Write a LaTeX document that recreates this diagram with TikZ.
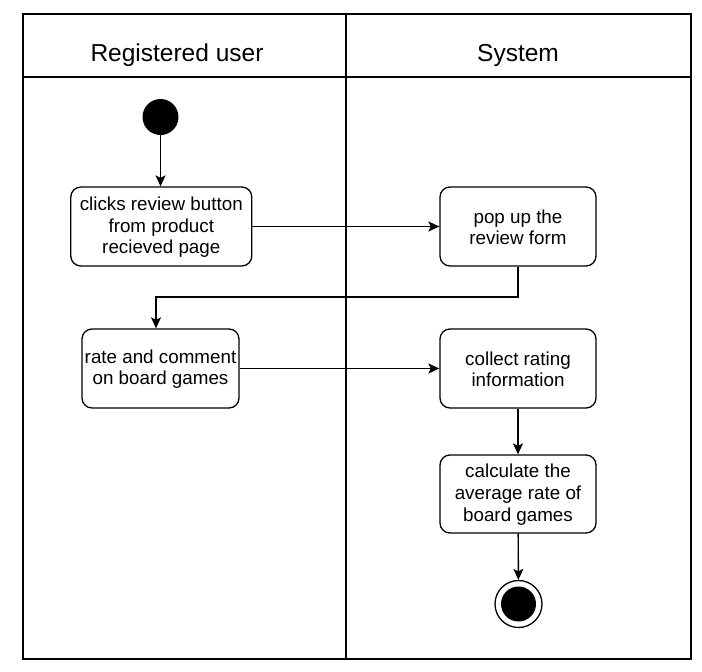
\documentclass[tikz,border=0pt]{standalone}
\usepackage{fontspec}
\setmainfont{Liberation Sans}
\usetikzlibrary{arrows.meta}
\begin{document}
\begin{tikzpicture}[x=1pt,y=-1pt,
  lane/.style={line width=1.4pt,draw=black},
  act/.style={draw=black,line width=1.3pt,rounded corners=10pt,align=center,
    inner sep=0pt,minimum height=79pt,font=\fontsize{18.8}{21.7}\selectfont},
  flow/.style={line width=1.4pt,-{Stealth[length=11pt,width=10pt,inset=2.5pt]}},
  title/.style={font=\fontsize{24.5}{28}\selectfont}]
\useasboundingbox (0,0) rectangle (702,672);
\fill[white] (0,0) rectangle (702,672);
% swimlanes
\draw[lane] (23,14) rectangle (691,659);
\draw[lane] (23,77) -- (691,77);
\draw[lane] (346,14) -- (346,659);
\node[title] (t1) at (177,55) {Registered user};
\node[title] (t2) at (518,55) {System};
% start
\node[circle,fill=black,minimum size=36pt,inner sep=0pt] (start) at (160.5,117) {};
% activities
\node[act,minimum width=181pt] (a1) at (161.3,226.5) {\strut clicks review button\\from product\\recieved page};
\node[act,minimum width=156pt] (a2) at (518,226.5) {\strut pop up the\\review form};
\node[act,minimum width=157pt] (a3) at (160.5,368.5) {\strut rate and comment\\on board games};
\node[act,minimum width=156pt] (a4) at (518,368.5) {\strut collect rating\\information};
\node[act,minimum width=156pt,minimum height=78pt] (a5) at (518,494) {\strut calculate the\\average rate of\\board games};
% end
\node[circle,draw=black,line width=1.3pt,minimum size=47pt,inner sep=0pt] (end) at (518.5,604) {};
\node[circle,fill=black,minimum size=35pt,inner sep=0pt] (endin) at (end.center) {};
% flows
\coordinate (k1) at (518,297);
\coordinate (k2) at (156,297);
\draw[flow] (start) -- (a1.north -| start);
\draw[flow] (a1) -- (a2);
\draw[flow] (a2.south) -- (k1) -- (k2) -- (k2 |- a3.north);
\draw[flow] (a3) -- (a4);
\draw[flow] (a4) -- (a5);
\draw[flow] (a5) -- (end);
\end{tikzpicture}
\end{document}
